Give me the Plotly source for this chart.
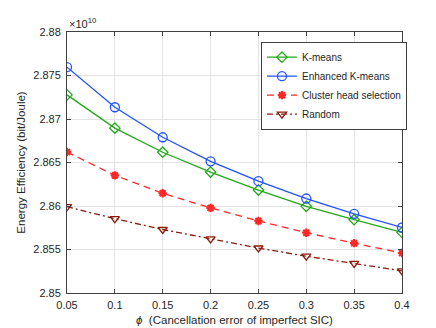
import plotly.graph_objects as go

phi = [0.05, 0.1, 0.15, 0.2, 0.25, 0.3, 0.35, 0.4]
# energy efficiency, in units of 1e10 bit/Joule
kmeans = [2.87277, 2.86895, 2.86618, 2.8639, 2.86183, 2.85996, 2.85843, 2.85697]
enhanced = [2.87596, 2.87135, 2.8679, 2.86513, 2.86285, 2.86086, 2.8591, 2.85753]
cluster_head = [2.86621, 2.86352, 2.86146, 2.85978, 2.85828, 2.85693, 2.85573, 2.8546]
random_sel = [2.85992, 2.85854, 2.8573, 2.85622, 2.85517, 2.85423, 2.8534, 2.85255]

xticks = [0.05, 0.1, 0.15, 0.2, 0.25, 0.3, 0.35, 0.4]
yticks = [2.85, 2.855, 2.86, 2.865, 2.87, 2.875, 2.88]
ytick_text = ['2.85', '2.855', '2.86', '2.865', '2.87', '2.875', '2.88']

FONT = 'Liberation Sans, Arial'
TXT = '#262626'

fig = go.Figure()
fig.add_trace(go.Scatter(x=phi, y=kmeans, mode='lines+markers', name='K-means',
                         line=dict(color='#22a818', width=1.3),
                         marker=dict(symbol='diamond-open', size=8, color='#22a818', line=dict(width=1.3))))
fig.add_trace(go.Scatter(x=phi, y=enhanced, mode='lines+markers', name='Enhanced K-means',
                         line=dict(color='#2152ff', width=1.3),
                         marker=dict(symbol='circle-open', size=9, color='#2152ff', line=dict(width=1.3))))
fig.add_trace(go.Scatter(x=phi, y=cluster_head, mode='lines+markers', name='Cluster head selection',
                         line=dict(color='#ff2626', width=1.3, dash='7px,5px'),
                         marker=dict(symbol='asterisk-open', size=7, color='#ff2626', line=dict(width=2.2, color='#ff2626'))))
fig.add_trace(go.Scatter(x=phi, y=random_sel, mode='lines+markers', name='Random',
                         line=dict(color='#8a1c0c', width=1.3, dash='6px,3px,2px,3px'),
                         marker=dict(symbol='triangle-down-open', size=8, color='#8a1c0c', line=dict(width=1.3))))

axis_common = dict(showline=True, linecolor='#404040', linewidth=1, mirror='ticks',
                   ticks='inside', ticklen=4, tickcolor='#404040',
                   showgrid=True, gridcolor='#e3e3e3', gridwidth=1, zeroline=False,
                   tickfont=dict(family=FONT, size=11, color=TXT))

fig.update_xaxes(range=[0.05, 0.4], tickvals=xticks, ticktext=[str(v) for v in xticks],
                 ticklabelstandoff=2,
                 title=dict(text='<i>ϕ</i>  (Cancellation error of imperfect SIC)', standoff=5,
                            font=dict(family=FONT, size=11.5, color=TXT)),
                 **axis_common)
fig.update_yaxes(range=[2.85, 2.88], tickvals=yticks, ticktext=ytick_text,
                 ticklabelstandoff=3,
                 title=dict(text='Energy Efficiency (bit/Joule)', standoff=5,
                            font=dict(family=FONT, size=11.5, color=TXT)),
                 **axis_common)

fig.add_annotation(text='×10<sup>10</sup>', xref='paper', yref='paper', x=0, y=1,
                   xanchor='left', yanchor='bottom', showarrow=False, yshift=0,
                   font=dict(family=FONT, size=11, color=TXT))

fig.update_layout(width=436, height=328, margin=dict(l=57, r=42, t=24, b=37),
                  paper_bgcolor='white', plot_bgcolor='white',
                  legend=dict(x=0.579, y=0.963, xanchor='left', yanchor='top',
                              bgcolor='white', bordercolor='#404040', borderwidth=1,
                              font=dict(family=FONT, size=10, color=TXT),
                              tracegroupgap=0, itemwidth=30),
                  showlegend=True)

fig.write_html("out.html")
